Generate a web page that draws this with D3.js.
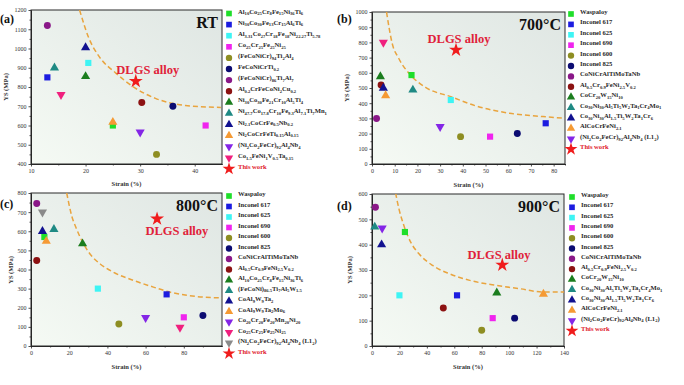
<!DOCTYPE html>
<html>
<head>
<meta charset="utf-8">
<script src="https://cdn.jsdelivr.net/npm/d3@7"></script>
<style>
  body { margin: 0; background: #fff; }
  svg { display: block; }
  text { font-family: "Liberation Serif", "DejaVu Serif", serif; }
</style>
</head>
<body>
<svg id="fig" width="684" height="385"></svg>
<script>
// ---------- data ----------
// (a) room temperature
const rtNames = ["Al_{10}Co_{25}Cr_{8}Fe_{15}Ni_{36}Ti_{6}", "Ni_{30}Co_{30}Fe_{13}Cr_{15}Al_{6}Ti_{6}",
  "Al_{3.31}Co_{27}Cr_{18}Fe_{18}Ni_{22.27}Ti_{5.78}", "Co_{25}Cr_{25}Fe_{25}Ni_{25}", "(FeCoNiCr)_{94}Ti_{2}Al_{4}",
  "FeCoNiCrTi_{0.2}", "(FeCoNiCr)_{86}Ti_{7}Al_{7}", "Al_{0.2}CrFeCoNi_{2}Cu_{0.2}", "Ni_{30}Co_{30}Fe_{21}Cr_{10}Al_{5}Ti_{4}",
  "Ni_{47.7}Co_{17.8}Cr_{10}Fe_{9.3}Al_{7.1}Ti_{7}Mn_{1}", "Ni_{2.1}CoCrFe_{0.5}Nb_{0.2}", "Ni_{2}CoCrFeTi_{0.15}Al_{0.15}",
  "(Ni_{2}Co_{2}FeCr)_{92}Al_{4}Nb_{4}", "Co_{1.5}FeNi_{1}V_{0.5}Ta_{0.15}", "This work"];
const rtStrain = [25, 13, 20.5, 42, 33, 36, 13, 30.3, 20, 14.3, 20, 25, 30, 15.5, 29.2];
const rtYS = [600, 850, 925, 600, 450, 700, 1120, 720, 855, 900, 1005, 617, 565, 760, 830];
const rtCurveStrain = [18.9, 20.6, 22.5, 25.6, 28.9, 32.8, 38.3, 44.8];
const rtCurveYS = [1200, 1054, 958, 871, 798, 741, 704, 694];

// (b) 700 C  (the pink down triangle at 5 % has no legend entry)
const t700Names = ["Waspaloy", "Inconel 617", "Inconel 625", "Inconel 690", "Inconel 600", "Inconel 825",
  "CoNiCrAlTiMoTaNb", "Al_{0.5}Cr_{0.9}FeNi_{2.5}V_{0.2}", "CoCr_{20}W_{15}Ni_{10}",
  "Co_{30}Ni_{30}Al_{5}Ti_{5}W_{2}Ta_{1}Cr_{4}Mo_{1}", "Co_{30}Ni_{30}Al_{1.5}Ti_{5}W_{2}Ta_{1}Cr_{6}",
  "AlCoCrFeNi_{2.1}", "(Ni_{2}Co_{2}FeCr)_{92}Al_{4}Nb_{4} (L1_{2})", null, "This work"];
const t700Strain = [17.4, 76.5, 34.7, 52, 39, 64, 2, 4, 3.7, 18, 5, 6, 30, 5, 37];
const t700YS = [585, 268, 421, 180, 180, 200, 300, 520, 575, 487, 500, 450, 245, 800, 750];
const t700CurveStrain = [6.4, 8.9, 11.8, 17.0, 23.6, 34.7, 45.8, 60.6, 75.3, 85.4];
const t700CurveYS = [1000, 793, 694, 585, 504, 443, 382, 334, 312, 301];

// (c) 800 C
const t800Names = ["Waspaloy", "Inconel 617", "Inconel 625", "Inconel 690", "Inconel 600", "Inconel 825",
  "CoNiCrAlTiMoTaNb", "Al_{0.5}Cr_{0.9}FeNi_{2.5}V_{0.2}", "Al_{10}Co_{25}Cr_{8}Fe_{15}Ni_{36}Ti_{6}",
  "(FeCoNi)_{86.5}Ti_{7}Al_{5}W_{1.5}", "CoAl_{9}W_{9}Ta_{2}", "CoAl_{9}W_{9}Ta_{2}Mo_{6}",
  "Co_{20}Cr_{20}Fe_{20}Mn_{20}Ni_{20}", "Co_{25}Cr_{25}Fe_{25}Ni_{25}", "(Ni_{2}Co_{2}FeCr)_{92}Al_{4}Nb_{4} (L1_{2})", "This work"];
const t800Strain = [7, 71, 35, 80, 46, 90, 3, 3, 27, 12, 6, 8, 60, 78, 6, 66];
const t800YS = [570, 270, 300, 150, 115, 160, 745, 447, 535, 610, 600, 548, 148, 97, 700, 665];
const t800CurveStrain = [18.7, 21.3, 23.9, 27.1, 30.9, 36.2, 43.1, 53.6, 64.1, 71.1, 81.6, 100];
const t800CurveYS = [800, 681, 611, 542, 481, 429, 386, 343, 308, 286, 265, 251];

// (d) 900 C
const t900Names = ["Waspaloy", "Inconel 617", "Inconel 625", "Inconel 690", "Inconel 600", "Inconel 825",
  "CoNiCrAlTiMoTaNb", "Al_{0.5}Cr_{0.9}FeNi_{2.5}V_{0.2}", "CoCr_{20}W_{15}Ni_{10}",
  "Co_{30}Ni_{30}Al_{5}Ti_{5}W_{2}Ta_{1}Cr_{4}Mo_{1}", "Co_{30}Ni_{30}Al_{1.5}Ti_{5}W_{2}Ta_{1}Cr_{6}",
  "AlCoCrFeNi_{2.1}", "(Ni_{2}Co_{2}FeCr)_{92}Al_{4}Nb_{4} (L1_{2})", "This work"];
const t900Strain = [24, 62, 20, 88, 80, 104, 2.5, 52, 91, 2, 7, 125, 7.4, 95];
const t900YS = [450, 200, 200, 110, 62, 110, 548, 150, 210, 470, 400, 205, 465, 320];
const t900CurveStrain = [17.2, 19.7, 23.3, 28.3, 34.4, 44.2, 56.5, 71.3, 90.9, 108, 125, 140];
const t900CurveYS = [604, 540, 475, 409, 363, 318, 285, 259, 239, 226, 213, 213];

// ---------- styles ----------
const mk = {
  gSq: ["square", "#1fde2a"], bSq: ["square", "#1c1ce0"], cSq: ["square", "#3ef4f4"], mSq: ["square", "#f024ee"],
  oCi: ["circle", "#8e8e22"], nCi: ["circle", "#0c0c72"], pCi: ["circle", "#8a1888"], rCi: ["circle", "#8c1212"],
  gTr: ["up", "#1b7d1e"], tTr: ["up", "#1f8a84"], bTr: ["up", "#121290"], oTr: ["up", "#f59a34"],
  vDn: ["down", "#8426e6"], pDn: ["down", "#f0207e"], yDn: ["down", "#8a8a8a"], star: ["star", "#f01c1c"]
};
const rtStyle = ["gSq", "bSq", "cSq", "mSq", "oCi", "nCi", "pCi", "rCi", "gTr", "tTr", "bTr", "oTr", "vDn", "pDn", "star"];
const t700Style = ["gSq", "bSq", "cSq", "mSq", "oCi", "nCi", "pCi", "rCi", "gTr", "tTr", "bTr", "oTr", "vDn", "pDn", "star"];
const t800Style = ["gSq", "bSq", "cSq", "mSq", "oCi", "nCi", "pCi", "rCi", "gTr", "tTr", "bTr", "oTr", "vDn", "pDn", "yDn", "star"];
const t900Style = ["gSq", "bSq", "cSq", "mSq", "oCi", "nCi", "pCi", "rCi", "gTr", "tTr", "bTr", "oTr", "vDn", "star"];

const svg = d3.select("#fig");
const defs = svg.append("defs");
const grad = defs.append("linearGradient").attr("id", "bg")
  .attr("x1", 0).attr("y1", 1).attr("x2", 1).attr("y2", 0);
grad.append("stop").attr("offset", 0).attr("stop-color", "#f5faf4");
grad.append("stop").attr("offset", 1).attr("stop-color", "#dfe6e3");

function symbolPath(shape, size) {
  if (shape === "square") return d3.symbol(d3.symbolSquare, size)();
  if (shape === "circle") return d3.symbol(d3.symbolCircle, size)();
  if (shape === "star") return d3.symbol(d3.symbolStar, size)();
  return d3.symbol(d3.symbolTriangle, size)();
}

function drawMark(g, key, cx, cy, size) {
  const [shape, color] = mk[key];
  let s = key === "star" ? size * 1.6 : (shape === "up" || shape === "down" ? size * 0.95 : size);
  g.append("path")
    .attr("d", symbolPath(shape, s))
    .attr("transform", "translate(" + cx + "," + cy + ")" + (shape === "down" ? " rotate(180)" : ""))
    .attr("fill", color);
}

// text with _{sub} subscripts
function richText(sel, str) {
  const parts = str.split(/(_\{[^}]*\})/).filter(s => s.length);
  let sub = false;
  parts.forEach(s => {
    if (s.startsWith("_{")) {
      sel.append("tspan").attr("font-size", "0.7em").attr("dy", sub ? 0 : 1.8).text(s.slice(2, -1));
      sub = true;
    } else {
      sel.append("tspan").attr("dy", sub ? -1.8 : 0).text(s);
      sub = false;
    }
  });
}

function drawPanel(p) {
  const [L, R, T, B] = p.box;
  const g = svg.append("g");
  const x = d3.scaleLinear().domain(p.xDomain).range([L, R]);
  const y = d3.scaleLinear().domain(p.yDomain).range([B, T]);

  g.append("rect").attr("x", L).attr("y", T).attr("width", R - L).attr("height", B - T)
    .attr("fill", "url(#bg)");

  // axes with major + minor ticks
  g.append("g").attr("transform", "translate(0," + B + ")")
    .call(d3.axisBottom(x).tickValues(p.xTicks).tickFormat(d3.format("d")).tickSize(2.5).tickPadding(2).tickSizeOuter(0));
  g.append("g").attr("transform", "translate(0," + B + ")")
    .call(d3.axisBottom(x).tickValues(p.xMinor).tickSize(1.5).tickFormat("").tickSizeOuter(0));
  g.append("g").attr("transform", "translate(" + L + ",0)")
    .call(d3.axisLeft(y).tickValues(p.yTicks).tickFormat(d3.format("d")).tickSize(2.5).tickPadding(2).tickSizeOuter(0));
  g.append("g").attr("transform", "translate(" + L + ",0)")
    .call(d3.axisLeft(y).tickValues(p.yMinor).tickSize(1.5).tickFormat("").tickSizeOuter(0));
  g.selectAll(".domain").attr("stroke", "#222");
  g.selectAll(".tick line").attr("stroke", "#222").attr("stroke-width", 0.8);
  g.selectAll(".tick text").attr("font-family", "Liberation Serif, serif").attr("font-size", 6)
    .attr("fill", "#333");

  g.append("rect").attr("x", L).attr("y", T).attr("width", R - L).attr("height", B - T)
    .attr("fill", "none").attr("stroke", "#2a2a2a").attr("stroke-width", 1);

  // dashed trend curve
  const clipId = "clip" + p.id;
  defs.append("clipPath").attr("id", clipId).append("rect")
    .attr("x", L).attr("y", T).attr("width", R - L).attr("height", B - T);
  const line = d3.line().x(d => x(d[0])).y(d => y(d[1])).curve(d3.curveMonotoneX);
  g.append("path")
    .datum(p.curveX.map((v, i) => [v, p.curveY[i]]))
    .attr("d", line)
    .attr("clip-path", "url(#" + clipId + ")")
    .attr("fill", "none").attr("stroke", "#e9a43e").attr("stroke-width", 1.5)
    .attr("stroke-dasharray", "5,3");

  // points
  p.strain.forEach((v, i) => drawMark(g, p.style[i], x(v), y(p.ys[i]), 38));

  // labels
  g.append("text").attr("x", R - 4).attr("y", T + 18).attr("text-anchor", "end")
    .attr("font-size", 16).attr("font-weight", "bold").attr("fill", "#111").text(p.title);
  g.append("text").attr("x", x(p.dlgs[0])).attr("y", y(p.dlgs[1])).attr("text-anchor", "middle")
    .attr("font-size", 12.5).attr("font-weight", "bold").attr("fill", "#e0223a").text("DLGS alloy");
  g.append("text").attr("x", p.tag[0]).attr("y", p.tag[1]).attr("font-size", 12)
    .attr("font-weight", "bold").attr("fill", "#111").text(p.tagText);
  g.append("text").attr("transform", "translate(" + p.yLab[0] + "," + p.yLab[1] + ") rotate(-90)")
    .attr("text-anchor", "middle").attr("font-size", 6.5).attr("font-weight", "bold")
    .attr("fill", "#333").text("YS (MPa)");
  g.append("text").attr("x", (L + R) / 2).attr("y", p.xLabY).attr("text-anchor", "middle")
    .attr("font-size", 6.5).attr("font-weight", "bold").attr("fill", "#333").text("Strain (%)");

  // legend
  let row = 0;
  p.names.forEach((n, i) => {
    if (n === null) return;
    const ly = p.leg[1] + row * p.leg[2];
    drawMark(g, p.style[i], p.leg[0], ly, 32);
    const t = g.append("text").attr("x", p.leg[0] + 9).attr("y", ly).attr("dy", "0.33em")
      .attr("font-size", 6.6).attr("font-weight", "bold")
      .attr("fill", n === "This work" ? "#e0202c" : "#2a2a2a");
    richText(t, n);
    row++;
  });
}

const range = (a, b, s) => d3.range(a, b + s / 2, s);

drawPanel({
  id: "a", box: [31, 222, 10, 164], xDomain: [10, 45], yDomain: [400, 1200],
  xTicks: [10, 20, 30, 40], xMinor: [15, 25, 35], yTicks: range(400, 1200, 100), yMinor: range(450, 1150, 100),
  names: rtNames, strain: rtStrain, ys: rtYS, style: rtStyle,
  curveX: rtCurveStrain, curveY: rtCurveYS, title: "RT", dlgs: [31.4, 867],
  tag: [0, 23], tagText: "(a)", yLab: [8, 87], xLabY: 186, leg: [229, 13.5, 11.1]
});
drawPanel({
  id: "b", box: [372, 565, 12, 164], xDomain: [0, 85], yDomain: [0, 1000],
  xTicks: range(0, 80, 10), xMinor: range(5, 85, 10), yTicks: range(0, 1000, 100), yMinor: range(50, 950, 100),
  names: t700Names, strain: t700Strain, ys: t700YS, style: t700Style,
  curveX: t700CurveStrain, curveY: t700CurveYS, title: "700°C", dlgs: [38.3, 796],
  tag: [337, 23], tagText: "(b)", yLab: [349, 88], xLabY: 187, leg: [571, 14, 10.4]
});
drawPanel({
  id: "c", box: [31, 222, 193, 346], xDomain: [0, 100], yDomain: [0, 800],
  xTicks: range(0, 80, 20), xMinor: range(10, 90, 20), yTicks: range(0, 800, 100), yMinor: range(50, 750, 100),
  names: t800Names, strain: t800Strain, ys: t800YS, style: t800Style,
  curveX: t800CurveStrain, curveY: t800CurveYS, title: "800°C", dlgs: [76.4, 580],
  tag: [0, 208], tagText: "(c)", yLab: [13, 270], xLabY: 369, leg: [229, 196, 10.5]
});
drawPanel({
  id: "d", box: [372, 564, 194, 346], xDomain: [0, 140], yDomain: [0, 600],
  xTicks: range(0, 140, 20), xMinor: range(10, 130, 20), yTicks: range(0, 600, 100), yMinor: range(50, 550, 100),
  names: t900Names, strain: t900Strain, ys: t900YS, style: t900Style,
  curveX: t900CurveStrain, curveY: t900CurveYS, title: "900°C", dlgs: [92.6, 343],
  tag: [337, 210], tagText: "(d)", yLab: [352, 270], xLabY: 369, leg: [572, 197, 10.3]
});
</script>
</body>
</html>
